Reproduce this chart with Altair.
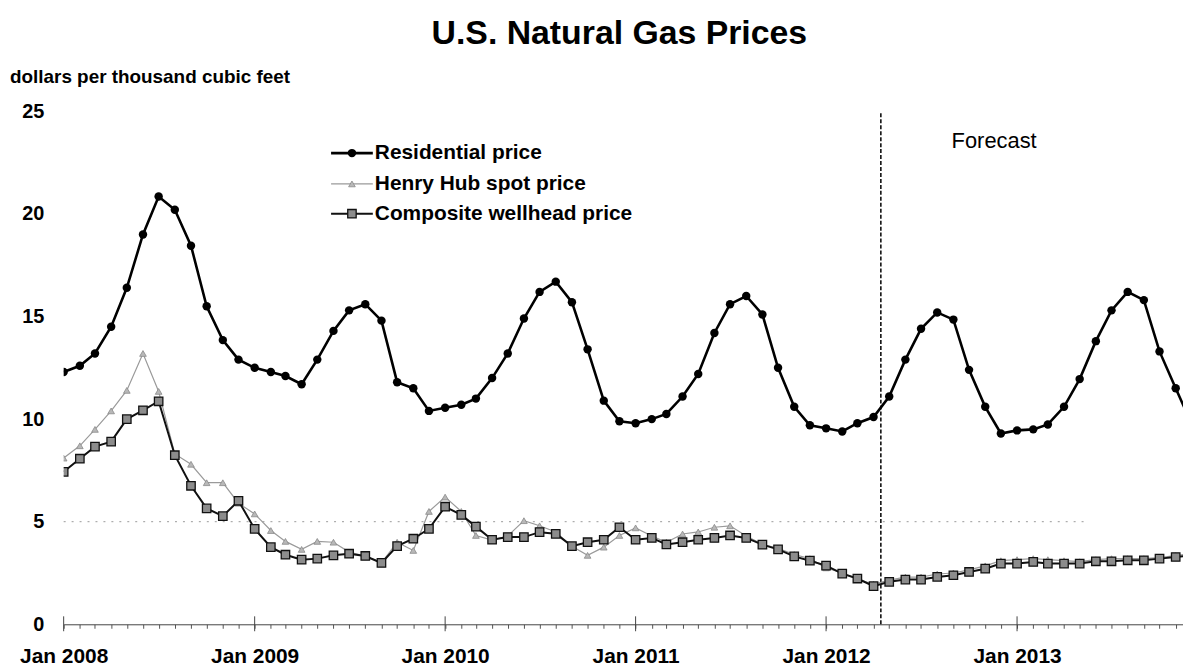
import altair as alt
import pandas as pd

# ---------------- data ----------------
years = [2008, 2009, 2010, 2011, 2012, 2013]
months = [f"{y}/{m:02d}/01" for y in years for m in range(1, 13)]

residential = [
    12.3, 12.6, 13.2, 14.5, 16.4, 19.0, 20.85, 20.2, 18.45, 15.5, 13.85, 12.9,
    12.5, 12.3, 12.1, 11.7, 12.9, 14.3, 15.3, 15.6, 14.8, 11.8, 11.5, 10.4,
    10.55, 10.7, 11.0, 12.0, 13.2, 14.9, 16.2, 16.7, 15.7, 13.4, 10.9, 9.9,
    9.8, 10.0, 10.25, 11.1, 12.2, 14.2, 15.6, 16.0, 15.1, 12.5, 10.6, 9.7,
    9.55, 9.4, 9.8, 10.1, 11.1, 12.9, 14.4, 15.2, 14.85, 12.4, 10.6, 9.3,
    9.45, 9.5, 9.74, 10.6, 11.95, 13.8, 15.3, 16.2, 15.8, 13.3, 11.5, 9.8,
]
henry_hub = [
    8.1, 8.7, 9.5, 10.4, 11.4, 13.2, 11.35, 8.3, 7.8, 6.9, 6.9, 5.9,
    5.38, 4.57, 4.04, 3.65, 4.04, 4.0, 3.52, 3.33, 3.0, 4.0, 3.6, 5.5,
    6.2, 5.5, 4.33, 4.1, 4.3, 5.05, 4.8, 4.5, 3.8, 3.36, 3.76, 4.33,
    4.7, 4.3, 4.0, 4.4, 4.5, 4.73, 4.8, 4.3, 3.9, 3.7, 3.4, 3.2,
    2.75, 2.5, 2.2, 1.95, 2.15, 2.3, 2.3, 2.45, 2.5, 2.65, 2.85, 3.1,
    3.15, 3.2, 3.15, 3.1, 3.05, 3.15, 3.2, 3.2, 3.2, 3.25, 3.35, 3.45,
]
composite = [
    7.43, 8.07, 8.66, 8.9, 10.0, 10.43, 10.87, 8.24, 6.75, 5.65, 5.27, 6.02,
    4.65, 3.76, 3.39, 3.15, 3.2, 3.36, 3.44, 3.33, 2.99, 3.81, 4.17, 4.65,
    5.73, 5.33, 4.76, 4.12, 4.25, 4.25, 4.49, 4.41, 3.81, 4.0, 4.12, 4.73,
    4.12, 4.21, 3.89, 4.0, 4.12, 4.21, 4.33, 4.21, 3.88, 3.65, 3.31, 3.1,
    2.86, 2.47, 2.23, 1.86, 2.07, 2.18, 2.18, 2.31, 2.39, 2.55, 2.71, 2.96,
    2.96, 3.04, 2.96, 2.96, 2.96, 3.07, 3.07, 3.12, 3.12, 3.2, 3.28, 3.35,
]
series_names = ["Residential price", "Henry Hub spot price", "Composite wellhead price"]
forecast_start = "2012/04/15"
forecast_label = "Forecast"
title_text = "U.S. Natural Gas Prices"
unit_text = "dollars per thousand cubic feet"
jan_ticks = [f"{y}/01/01" for y in years]
y_ticks = [0, 5, 10, 15, 20, 25]
grid_value = 5
grid_span = ["2008/01/01", "2013/05/15"]

FONT = "Liberation Sans"
W, H = 1126, 516

def frame(values):
    return pd.DataFrame({"date": months, "value": values})

x_scale = alt.Scale(domain=[alt.DateTime(year=2008, month=1, date=1),
                            alt.DateTime(year=2013, month=11, date=15)], nice=False)
y_scale = alt.Scale(domain=[0, 25], nice=False)

x_axis = alt.Axis(
    values=[alt.DateTime(year=y, month=m, date=1) for y in years for m in range(1, 13)],
    labelExpr="month(datum.value) == 0 ? 'Jan ' + year(datum.value) : ''",
    labelFlush=False, labelOverlap=False, labelFont=FONT, labelFontSize=21,
    labelFontWeight="bold", labelColor="#000", labelPadding=17,
    tickSize=4, tickColor="#555", domainColor="#444", domainWidth=1,
    grid=False, title=None,
)
y_axis = alt.Axis(
    values=y_ticks, labelFont=FONT, labelFontSize=20,
    labelFontWeight="bold", labelColor="#000", labelPadding=20,
    ticks=False, domain=False, grid=False, title=None,
)

def X(field="date:T"):
    return alt.X(field, scale=x_scale, axis=x_axis)

def Y(field="value:Q"):
    return alt.Y(field, scale=y_scale, axis=y_axis)

# gridline at 5 (partial, dotted)
grid = alt.Chart(pd.DataFrame({"s": [grid_span[0]], "e": [grid_span[1]], "v": [grid_value]})).mark_rule(
    color="#999", strokeDash=[2, 6], strokeWidth=1
).encode(x=X("s:T"), x2="e:T", y=Y("v:Q"))

# major Jan ticks
jan = alt.Chart(pd.DataFrame({"date": jan_ticks})).mark_rule(color="#444", strokeWidth=1).encode(
    x=X(), y=alt.value(H - 8), y2=alt.value(H + 7)
)

# forecast divider
fc = alt.Chart(pd.DataFrame({"date": [forecast_start], "lo": [0], "hi": [25]})).mark_rule(
    color="#000", strokeDash=[4, 2], strokeWidth=1.5
).encode(x=X(), y=Y("lo:Q"), y2="hi:Q")

hh = frame(henry_hub)
cw = frame(composite)
rs = frame(residential)

hh_line = alt.Chart(hh).mark_line(color="#9a9a9a", strokeWidth=1.2, clip=True).encode(x=X(), y=Y())
hh_pts = alt.Chart(hh).mark_point(shape="triangle-up", size=45, filled=True, color="#b8b8b8",
                                  stroke="#8a8a8a", strokeWidth=0.8, opacity=1, clip=True).encode(x=X(), y=Y())
cw_line = alt.Chart(cw).mark_line(color="#111", strokeWidth=2, clip=True).encode(x=X(), y=Y())
cw_pts = alt.Chart(cw).mark_point(shape="square", size=72, filled=True, color="#8c8c8c",
                                  stroke="#111", strokeWidth=1.3, opacity=1, clip=True).encode(x=X(), y=Y())
rs_line = alt.Chart(rs).mark_line(color="#000", strokeWidth=2.6, clip=True).encode(x=X(), y=Y())
rs_pts = alt.Chart(rs).mark_point(shape="circle", size=72, filled=True, color="#000",
                                  opacity=1, clip=True).encode(x=X(), y=Y())

one = pd.DataFrame({"a": [0]})

def text(t, x, y, size, weight="bold", align="left"):
    return alt.Chart(one).mark_text(
        text=t, font=FONT, fontSize=size, fontWeight=weight, align=align,
        baseline="middle", color="#000"
    ).encode(x=alt.value(x), y=alt.value(y))

# legend
leg_rows = [42, 73, 103]
legend_parts = []
styles = [
    dict(line=dict(color="#000", strokeWidth=2.6),
         pt=dict(shape="circle", size=72, filled=True, color="#000", opacity=1)),
    dict(line=dict(color="#9a9a9a", strokeWidth=1.2),
         pt=dict(shape="triangle-up", size=45, filled=True, color="#b8b8b8", stroke="#8a8a8a",
                 strokeWidth=0.8, opacity=1)),
    dict(line=dict(color="#111", strokeWidth=2),
         pt=dict(shape="square", size=72, filled=True, color="#8c8c8c", stroke="#111",
                 strokeWidth=1.3, opacity=1)),
]
for name, yy, st in zip(series_names, leg_rows, styles):
    legend_parts.append(alt.Chart(one).mark_rule(**st["line"]).encode(
        x=alt.value(269), x2=alt.value(311), y=alt.value(yy)))
    legend_parts.append(alt.Chart(one).mark_point(**st["pt"]).encode(
        x=alt.value(290), y=alt.value(yy)))
    legend_parts.append(text(name, 313, yy, 21))

texts = [
    text(title_text, 559, -78, 34, align="center"),
    text(unit_text, -54, -35, 19),
    text(forecast_label, 936, 30, 22, weight="normal", align="center"),
]

chart = alt.layer(
    grid, jan, fc, hh_line, hh_pts, cw_line, cw_pts, rs_line, rs_pts,
    *legend_parts, *texts
).properties(
    width=W, height=H,
    autosize=alt.AutoSizeParams(type="none"),
    padding={"left": 56, "top": 102, "right": 0, "bottom": 41},
    background="white",
).configure_view(stroke=None)

chart.save("out.html", embed_options={"renderer": "svg", "actions": False})
